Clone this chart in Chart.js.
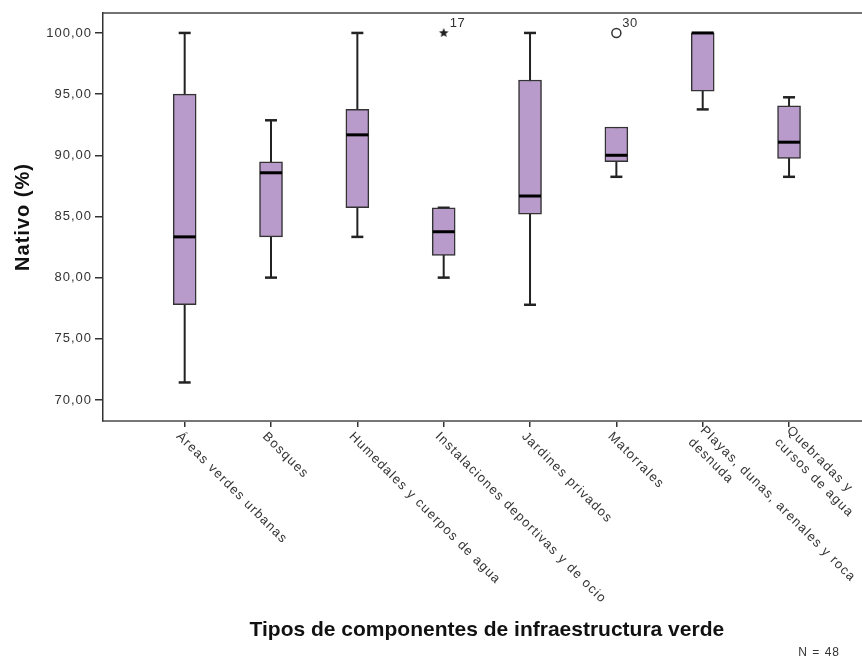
<!DOCTYPE html>
<html>
<head>
<meta charset="utf-8">
<script src="https://cdn.jsdelivr.net/npm/chart.js@4.4.1/dist/chart.umd.min.js"></script>
<style>
  html, body { margin: 0; padding: 0; background: #fff; }
  #wrap { width: 862px; height: 658px; }
</style>
</head>
<body>
<div id="wrap"><canvas id="myChart"></canvas></div>
<script>
// categories (multi-line where the original wraps)
const categories = [
  ["Áreas verdes urbanas"],
  ["Bosques"],
  ["Humedales y cuerpos de agua"],
  ["Instalaciones deportivas y de ocio"],
  ["Jardines privados"],
  ["Matorrales"],
  ["Playas, dunas, arenales y roca", "desnuda"],
  ["Quebradas y", "cursos de agua"]
];

// box plot values
const whiskerLow  = [71.43, 80.00, 83.33, 80.00, 77.78, 88.24, 93.75, 88.24];
const q1          = [77.78, 83.33, 85.71, 81.82, 85.19, 89.47, 95.24, 89.74];
const median      = [83.33, 88.57, 91.67, 83.75, 86.67, 90.00, 100.00, 91.07];
const q3          = [95.00, 89.47, 93.75, 85.71, 96.15, 92.31, 100.00, 94.05];
const whiskerHigh = [100.00, 92.86, 100.00, 85.71, 100.00, 92.31, 100.00, 94.74];

// outliers
const outlierCat   = [3, 5];
const outlierValue = [100, 100];
const outlierId    = ["17", "30"];
const outlierStyle = ["star", "circle"];

const yTicks = [70, 75, 80, 85, 90, 95, 100];
const xTitle = "Tipos de componentes de infraestructura verde";
const yTitle = "Nativo (%)";
const nNote = "N = 48";

const FONT = "'Liberation Sans', Arial, sans-serif";

// small filled star used as point style
function makeStar(r) {
  const c = document.createElement("canvas");
  c.width = c.height = r * 2 + 2;
  const g = c.getContext("2d");
  g.fillStyle = "#222";
  g.beginPath();
  for (let i = 0; i < 10; i++) {
    const rr = i % 2 === 0 ? r : r * 0.45;
    const a = -Math.PI / 2 + i * Math.PI / 5;
    g.lineTo(r + 1 + rr * Math.cos(a), r + 1 + rr * Math.sin(a));
  }
  g.closePath();
  g.fill();
  return c;
}
const starImg = makeStar(5);

const boxParts = {
  id: "boxParts",
  beforeDraw(chart) {
    chart.ctx.letterSpacing = "1px";
  },
  beforeDatasetsDraw(chart) {
    const { ctx, scales: { x, y } } = chart;
    ctx.save();
    ctx.strokeStyle = "#222";
    categories.forEach((_, i) => {
      const px = x.getPixelForValue(i);
      ctx.lineWidth = 2;
      ctx.beginPath();
      ctx.moveTo(px, y.getPixelForValue(whiskerHigh[i]));
      ctx.lineTo(px, y.getPixelForValue(whiskerLow[i]));
      ctx.stroke();
      ctx.lineWidth = 2.5;
      if (whiskerHigh[i] > q3[i] || i === 3) {
        const py = y.getPixelForValue(whiskerHigh[i]);
        ctx.beginPath(); ctx.moveTo(px - 6, py); ctx.lineTo(px + 6, py); ctx.stroke();
      }
      if (whiskerLow[i] < q1[i]) {
        const py = y.getPixelForValue(whiskerLow[i]);
        ctx.beginPath(); ctx.moveTo(px - 6, py); ctx.lineTo(px + 6, py); ctx.stroke();
      }
    });
    ctx.restore();
  },
  afterDatasetsDraw(chart) {
    const { ctx, scales: { x, y } } = chart;
    ctx.save();
    ctx.strokeStyle = "#000";
    ctx.lineWidth = 3;
    categories.forEach((_, i) => {
      const px = x.getPixelForValue(i);
      const py = y.getPixelForValue(median[i]);
      ctx.beginPath(); ctx.moveTo(px - 11, py); ctx.lineTo(px + 11, py); ctx.stroke();
    });
    // outlier case numbers
    ctx.fillStyle = "#333";
    ctx.font = "13px " + FONT;
    ctx.letterSpacing = "0.5px";
    ctx.textBaseline = "middle";
    ctx.textAlign = "left";
    outlierCat.forEach((c, k) => {
      const px = x.getPixelForValue(c);
      const py = y.getPixelForValue(outlierValue[k]);
      ctx.fillText(outlierId[k], px + 6, py - 10);
    });
    ctx.restore();
  },
  afterDraw(chart) {
    const { ctx, chartArea: a, scales: { x } } = chart;
    ctx.save();
    // top frame line
    ctx.strokeStyle = "#444";
    ctx.lineWidth = 1.5;
    ctx.beginPath(); ctx.moveTo(a.left, a.top); ctx.lineTo(a.right, a.top); ctx.stroke();

    // rotated category labels
    ctx.fillStyle = "#333";
    ctx.font = "13px " + FONT;
    ctx.letterSpacing = "1.2px";
    ctx.textAlign = "left";
    ctx.textBaseline = "middle";
    const lh = 17;
    categories.forEach((lines, i) => {
      const px = x.getPixelForValue(i);
      ctx.save();
      ctx.translate(px, a.bottom);
      ctx.rotate(Math.PI / 4);
      lines.forEach((t, k) => {
        ctx.fillText(t, 5, 14 + (k - (lines.length - 1) / 2) * lh);
      });
      ctx.restore();
    });

    // x title
    ctx.fillStyle = "#111";
    ctx.font = "bold 21px " + FONT;
    ctx.letterSpacing = "0px";
    ctx.textAlign = "center";
    ctx.textBaseline = "alphabetic";
    ctx.fillText(xTitle, x.getPixelForValue(3.5), 636);

    // N note
    ctx.fillStyle = "#333";
    ctx.font = "12px " + FONT;
    ctx.letterSpacing = "1px";
    ctx.textAlign = "right";
    ctx.textBaseline = "middle";
    ctx.fillText(nNote, 840, 653);
    ctx.restore();
  }
};

const ctx = document.getElementById("myChart").getContext("2d");

new Chart(ctx, {
  type: "bar",
  data: {
    datasets: [
      {
        type: "bar",
        data: categories.map((_, i) => ({ x: i, y: [q1[i], q3[i]] })),
        backgroundColor: "#B99BCB",
        borderColor: "#333",
        borderWidth: 1.5,
        borderSkipped: false,
        barThickness: 23,
        order: 2
      },
      {
        type: "scatter",
        data: outlierCat.map((c, k) => ({ x: c, y: outlierValue[k] })),
        pointStyle: outlierStyle.map(s => s === "star" ? starImg : "circle"),
        pointRadius: 4.5,
        borderColor: "#333",
        borderWidth: 1.5,
        backgroundColor: "rgba(0,0,0,0)",
        order: 1
      }
    ]
  },
  options: {
    responsive: true,
    maintainAspectRatio: false,
    animation: false,
    devicePixelRatio: 1,
    layout: { autoPadding: false, padding: { top: 13, left: 0, right: 0, bottom: 0 } },
    plugins: {
      legend: { display: false },
      tooltip: { enabled: false },
      title: { display: false }
    },
    scales: {
      x: {
        type: "linear",
        offset: false,
        min: -0.946,
        max: 7.845,
        afterBuildTicks: s => { s.ticks = categories.map((_, i) => ({ value: i })); },
        afterFit: s => { s.height = 237; },
        ticks: { display: false },
        grid: { offset: false, drawOnChartArea: false, tickLength: 6, color: "#333", lineWidth: 1.5 },
        border: { display: true, color: "#777", width: 2 }
      },
      y: {
        min: 68.28,
        max: 101.63,
        afterBuildTicks: s => { s.ticks = yTicks.map(v => ({ value: v })); },
        afterFit: s => { s.width = 103; },
        ticks: {
          color: "#333",
          padding: 3,
          font: { family: FONT, size: 13 },
          callback: v => v.toFixed(2).replace(".", ",")
        },
        grid: { drawOnChartArea: false, tickLength: 8, color: "#333", lineWidth: 1.5 },
        border: { display: true, color: "#333", width: 1.5 },
        title: {
          display: true,
          text: yTitle,
          color: "#111",
          font: { family: FONT, size: 20, weight: "bold" },
          padding: { top: 11, bottom: 0 }
        }
      }
    }
  },
  plugins: [boxParts]
});
</script>
</body>
</html>
